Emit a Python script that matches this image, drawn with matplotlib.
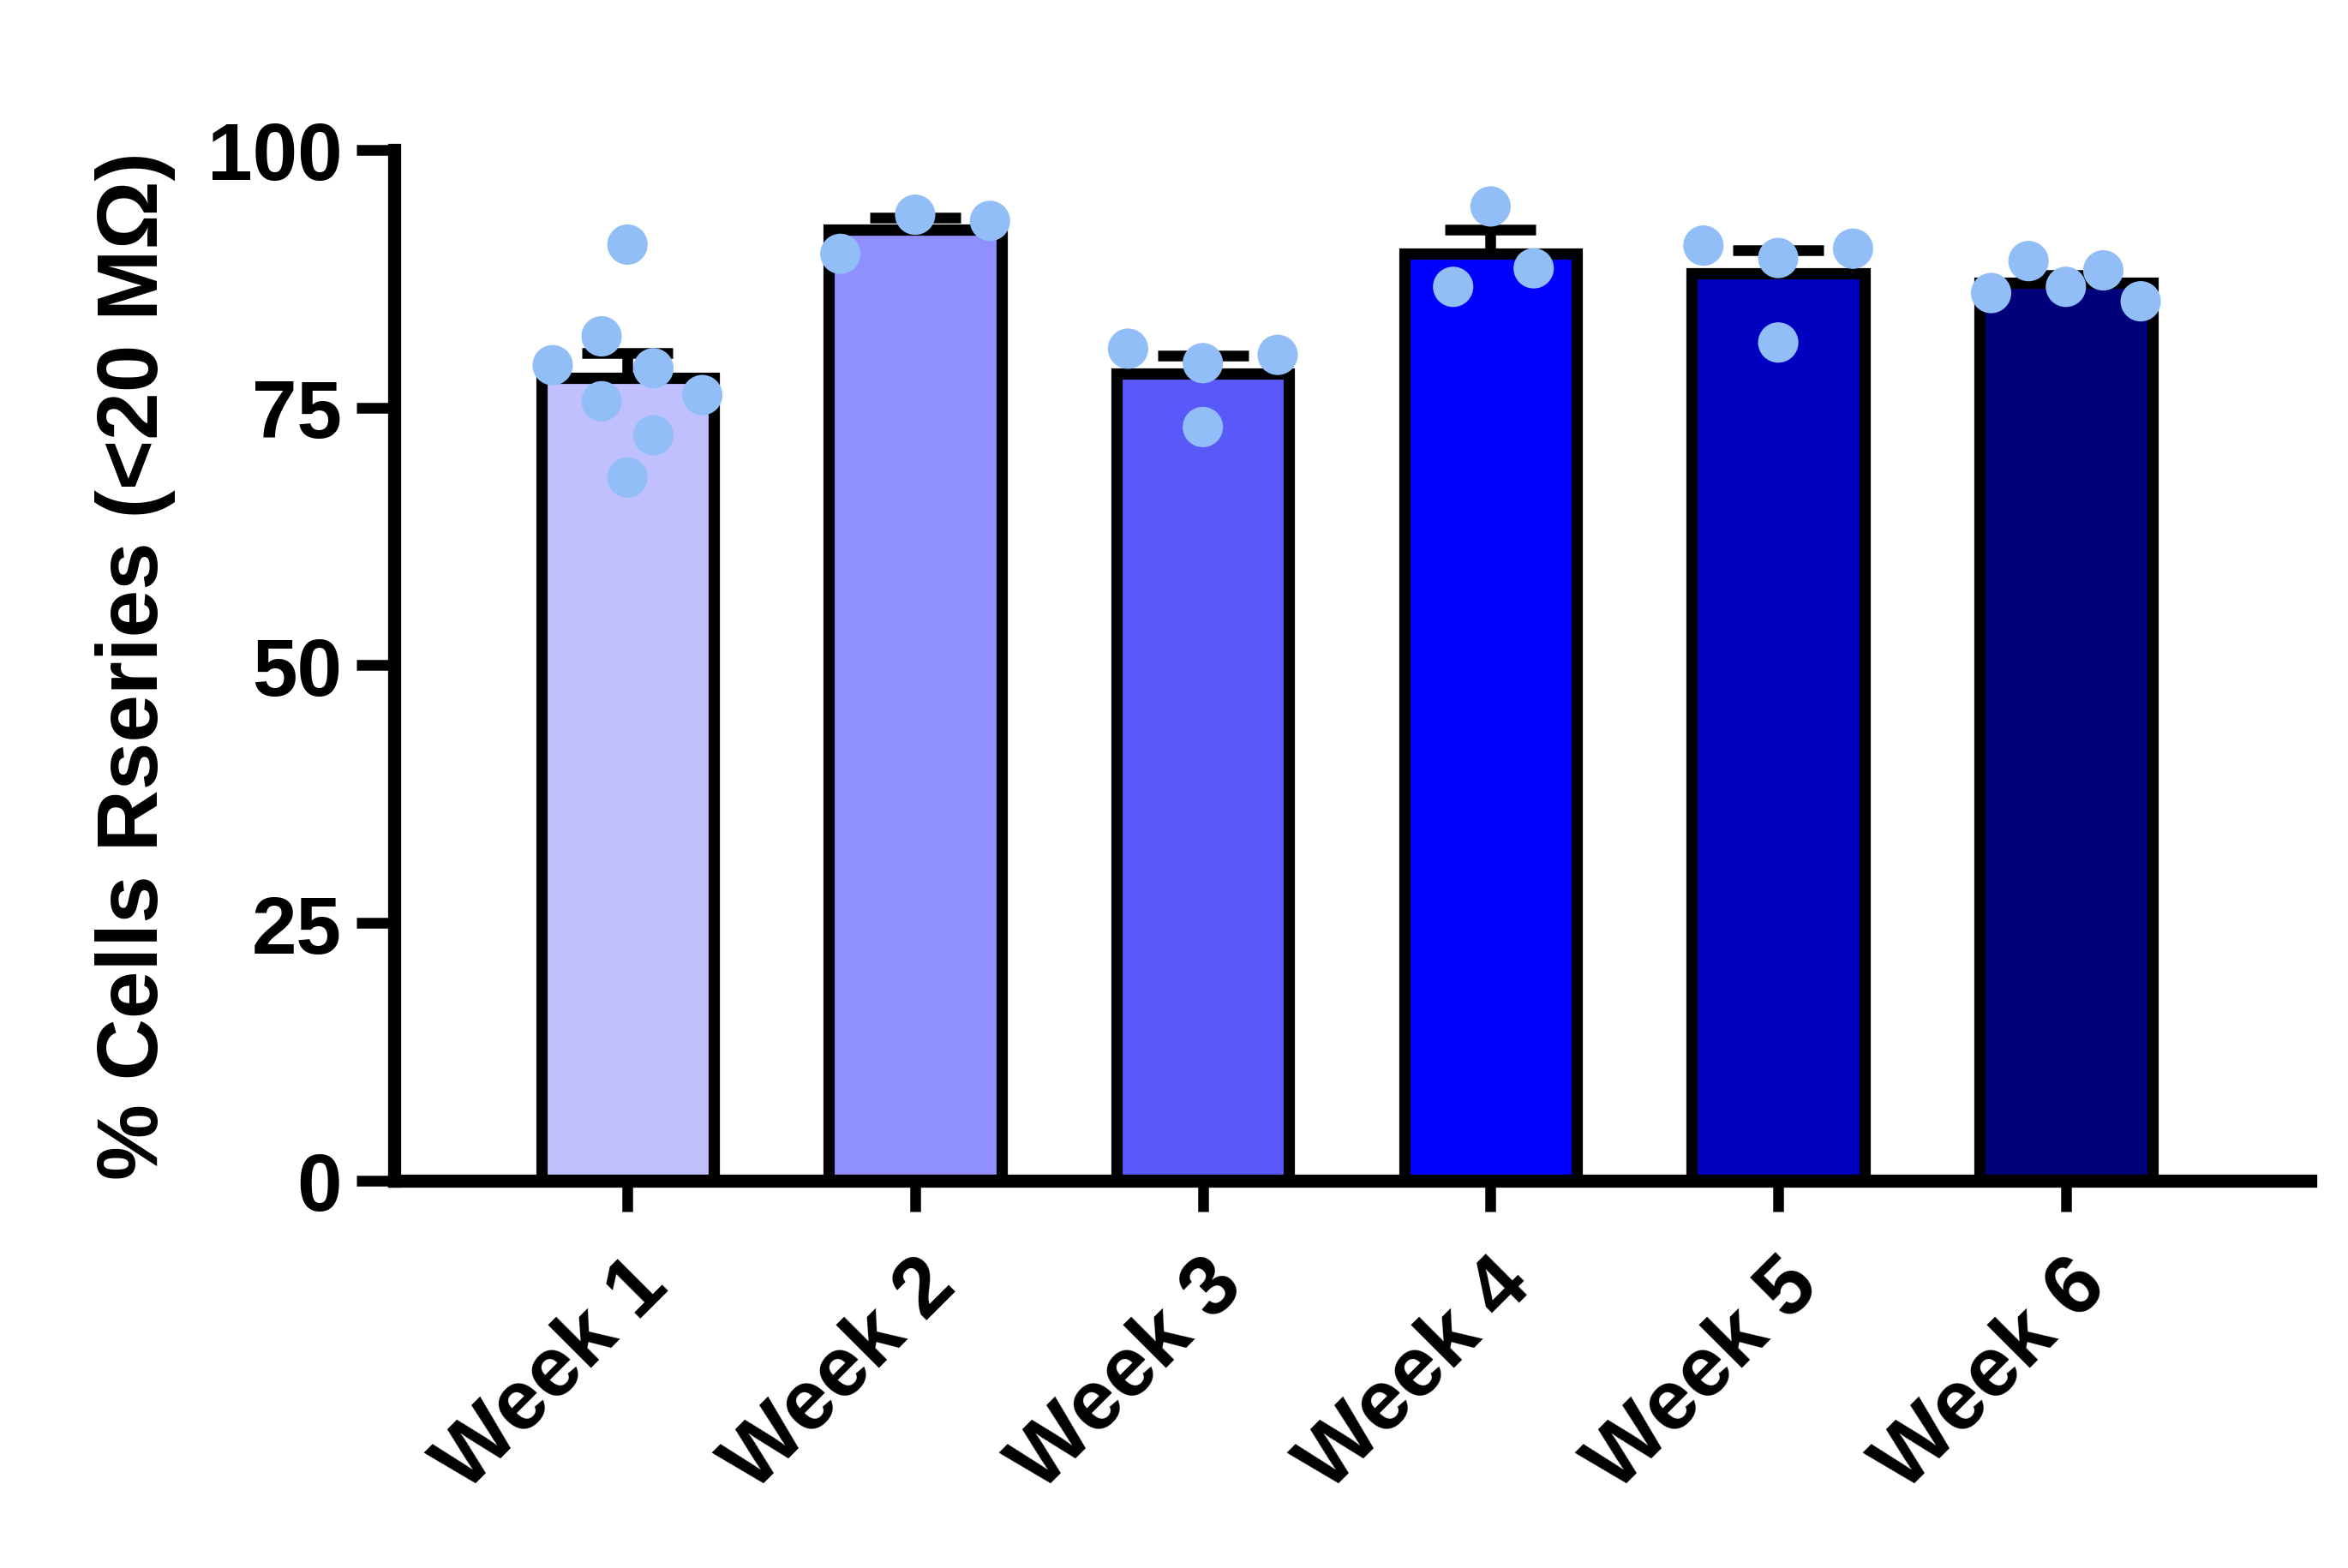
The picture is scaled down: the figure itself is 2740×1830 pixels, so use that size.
import numpy as np
import matplotlib
matplotlib.use("Agg")
import matplotlib.pyplot as plt

weeks = ["Week 1", "Week 2", "Week 3", "Week 4", "Week 5", "Week 6"]
week1 = [90.8, 81.9, 79.1, 78.8, 75.6, 76.2, 72.3, 68.2]
week2 = [89.9, 93.7, 93.1]
week3 = [80.7, 79.3, 80.1, 73.1]
week4 = [94.5, 86.7, 88.5]
week5 = [90.7, 89.5, 90.4, 81.3]
week6 = [86.1, 89.2, 86.7, 88.3, 85.3]
values = [week1, week2, week3, week4, week5, week6]

# horizontal scatter of the dots (fraction of a category slot)
offsets = [
    [0, -0.09, -0.26, 0.09, -0.09, 0.26, 0.09, 0],
    [-0.26, 0, 0.26],
    [-0.26, 0, 0.26, 0],
    [0, -0.13, 0.15],
    [-0.26, 0, 0.26, 0],
    [-0.26, -0.13, 0, 0.13, 0.26],
]
bar_colors = ["#C0C0FF", "#8F8FFF", "#5959FA", "#0000FF", "#0000C0", "#00007A"]
dot_color = "#92BEF8"

plt.rcParams['font.family'] = ['Liberation Sans', 'DejaVu Sans']
plt.rcParams['font.weight'] = 'bold'

fig = plt.figure(figsize=(27.4, 18.31), dpi=100)
ax = fig.add_axes([0.168, 0.247, 0.816, 0.657])

x = np.arange(len(weeks))
means = [np.mean(v) for v in values]
sems = [np.std(v, ddof=1) / np.sqrt(len(v)) for v in values]

ax.bar(x, means, width=0.6, color=bar_colors, edgecolor="black", linewidth=9.5, zorder=2)
ax.errorbar(x, means, yerr=[np.zeros(len(x)), sems], fmt="none", ecolor="black",
            elinewidth=9, capsize=38, capthick=9, zorder=3)
for i, v in enumerate(values):
    ax.scatter(x[i] + np.array(offsets[i]), v, s=1150, color=dot_color,
               edgecolors="none", zorder=4, clip_on=False)

ax.set_xlim(-0.81, 5.85)
ax.set_ylim(0, 100)
ax.set_yticks([0, 25, 50, 75, 100])
ax.set_xticks(x)
ax.set_xticklabels(weeks, rotation=45, ha="right", rotation_mode="anchor", fontsize=71, fontweight="bold")
ax.tick_params(axis="y", labelsize=68, width=9, length=32, pad=12)
ax.tick_params(axis="x", width=9, length=26, pad=28)
for lab in ax.get_yticklabels():
    lab.set_fontweight("bold")
ax.set_ylabel("% Cells Rseries (<20 MΩ)", fontsize=72, fontweight="bold", labelpad=26)

ax.spines["top"].set_visible(False)
ax.spines["right"].set_visible(False)
ax.spines["left"].set_linewidth(11)
ax.spines["bottom"].set_linewidth(11)

fig.savefig("out.png", dpi=100)
